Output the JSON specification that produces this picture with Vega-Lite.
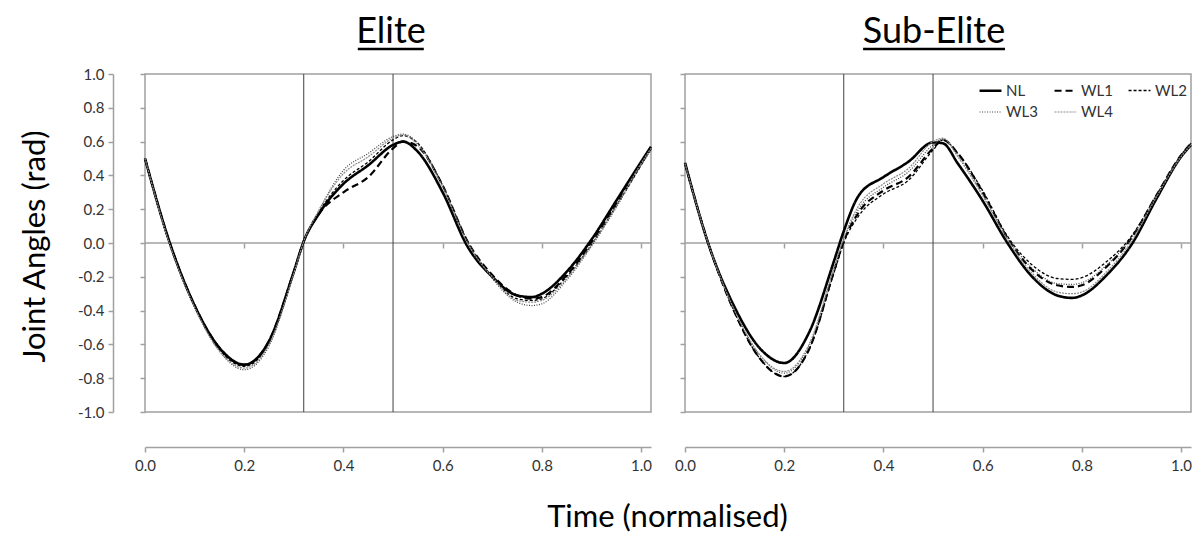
{
  "$schema": "https://vega.github.io/schema/vega-lite/v6.json",
  "background": "white",
  "padding": {"left": 18, "top": 12, "right": 5, "bottom": 5},
  "bounds": "flush",
  "spacing": 34,
  "datasets": {
    "curves": [
      {"g":"E","t":0,"NL":0.50,"WL1":0.50,"WL2":0.50,"WL3":0.50,"WL4":0.50},
      {"g":"E","t":0.05,"NL":0.00,"WL1":0.00,"WL2":0.00,"WL3":-0.01,"WL4":-0.01},
      {"g":"E","t":0.1,"NL":-0.37,"WL1":-0.37,"WL2":-0.37,"WL3":-0.38,"WL4":-0.38},
      {"g":"E","t":0.15,"NL":-0.62,"WL1":-0.62,"WL2":-0.63,"WL3":-0.64,"WL4":-0.64},
      {"g":"E","t":0.2,"NL":-0.72,"WL1":-0.72,"WL2":-0.73,"WL3":-0.75,"WL4":-0.74},
      {"g":"E","t":0.25,"NL":-0.58,"WL1":-0.58,"WL2":-0.59,"WL3":-0.61,"WL4":-0.60},
      {"g":"E","t":0.3,"NL":-0.17,"WL1":-0.17,"WL2":-0.17,"WL3":-0.18,"WL4":-0.18},
      {"g":"E","t":0.32,"NL":0.01,"WL1":0.01,"WL2":0.01,"WL3":0.01,"WL4":0.01},
      {"g":"E","t":0.35,"NL":0.17,"WL1":0.17,"WL2":0.18,"WL3":0.19,"WL4":0.19},
      {"g":"E","t":0.4,"NL":0.35,"WL1":0.30,"WL2":0.37,"WL3":0.43,"WL4":0.41},
      {"g":"E","t":0.45,"NL":0.46,"WL1":0.39,"WL2":0.48,"WL3":0.53,"WL4":0.51},
      {"g":"E","t":0.5,"NL":0.58,"WL1":0.56,"WL2":0.61,"WL3":0.63,"WL4":0.62},
      {"g":"E","t":0.52,"NL":0.60,"WL1":0.60,"WL2":0.635,"WL3":0.645,"WL4":0.64},
      {"g":"E","t":0.55,"NL":0.54,"WL1":0.57,"WL2":0.59,"WL3":0.59,"WL4":0.58},
      {"g":"E","t":0.6,"NL":0.30,"WL1":0.34,"WL2":0.34,"WL3":0.34,"WL4":0.33},
      {"g":"E","t":0.65,"NL":-0.02,"WL1":0.01,"WL2":0.01,"WL3":0.01,"WL4":0.00},
      {"g":"E","t":0.7,"NL":-0.20,"WL1":-0.19,"WL2":-0.20,"WL3":-0.21,"WL4":-0.20},
      {"g":"E","t":0.75,"NL":-0.31,"WL1":-0.31,"WL2":-0.33,"WL3":-0.35,"WL4":-0.34},
      {"g":"E","t":0.78,"NL":-0.32,"WL1":-0.33,"WL2":-0.34,"WL3":-0.37,"WL4":-0.35},
      {"g":"E","t":0.8,"NL":-0.30,"WL1":-0.32,"WL2":-0.33,"WL3":-0.36,"WL4":-0.34},
      {"g":"E","t":0.85,"NL":-0.17,"WL1":-0.19,"WL2":-0.20,"WL3":-0.22,"WL4":-0.21},
      {"g":"E","t":0.9,"NL":0.02,"WL1":0.00,"WL2":-0.01,"WL3":-0.02,"WL4":-0.01},
      {"g":"E","t":0.95,"NL":0.25,"WL1":0.23,"WL2":0.22,"WL3":0.21,"WL4":0.22},
      {"g":"E","t":1.0,"NL":0.48,"WL1":0.47,"WL2":0.46,"WL3":0.46,"WL4":0.47},
      {"g":"E","t":1.02,"NL":0.57,"WL1":0.56,"WL2":0.56,"WL3":0.55,"WL4":0.56},
      {"g":"S","t":0,"NL":0.475,"WL1":0.47,"WL2":0.47,"WL3":0.47,"WL4":0.47},
      {"g":"S","t":0.05,"NL":-0.03,"WL1":-0.03,"WL2":-0.03,"WL3":-0.03,"WL4":-0.03},
      {"g":"S","t":0.1,"NL":-0.38,"WL1":-0.41,"WL2":-0.41,"WL3":-0.40,"WL4":-0.40},
      {"g":"S","t":0.15,"NL":-0.62,"WL1":-0.68,"WL2":-0.68,"WL3":-0.66,"WL4":-0.66},
      {"g":"S","t":0.2,"NL":-0.71,"WL1":-0.79,"WL2":-0.79,"WL3":-0.77,"WL4":-0.76},
      {"g":"S","t":0.25,"NL":-0.53,"WL1":-0.63,"WL2":-0.63,"WL3":-0.61,"WL4":-0.60},
      {"g":"S","t":0.3,"NL":-0.11,"WL1":-0.17,"WL2":-0.18,"WL3":-0.16,"WL4":-0.15},
      {"g":"S","t":0.32,"NL":0.07,"WL1":0.01,"WL2":0.00,"WL3":0.02,"WL4":0.03},
      {"g":"S","t":0.35,"NL":0.28,"WL1":0.18,"WL2":0.16,"WL3":0.20,"WL4":0.22},
      {"g":"S","t":0.4,"NL":0.39,"WL1":0.31,"WL2":0.29,"WL3":0.33,"WL4":0.35},
      {"g":"S","t":0.45,"NL":0.48,"WL1":0.39,"WL2":0.37,"WL3":0.42,"WL4":0.44},
      {"g":"S","t":0.5,"NL":0.595,"WL1":0.56,"WL2":0.55,"WL3":0.58,"WL4":0.60},
      {"g":"S","t":0.52,"NL":0.59,"WL1":0.61,"WL2":0.61,"WL3":0.615,"WL4":0.62},
      {"g":"S","t":0.55,"NL":0.47,"WL1":0.53,"WL2":0.53,"WL3":0.52,"WL4":0.51},
      {"g":"S","t":0.6,"NL":0.25,"WL1":0.30,"WL2":0.31,"WL3":0.29,"WL4":0.28},
      {"g":"S","t":0.65,"NL":0.00,"WL1":0.03,"WL2":0.04,"WL3":0.03,"WL4":0.02},
      {"g":"S","t":0.7,"NL":-0.20,"WL1":-0.16,"WL2":-0.13,"WL3":-0.15,"WL4":-0.18},
      {"g":"S","t":0.75,"NL":-0.31,"WL1":-0.25,"WL2":-0.21,"WL3":-0.24,"WL4":-0.29},
      {"g":"S","t":0.78,"NL":-0.325,"WL1":-0.26,"WL2":-0.215,"WL3":-0.245,"WL4":-0.30},
      {"g":"S","t":0.8,"NL":-0.31,"WL1":-0.25,"WL2":-0.205,"WL3":-0.235,"WL4":-0.29},
      {"g":"S","t":0.85,"NL":-0.19,"WL1":-0.14,"WL2":-0.11,"WL3":-0.13,"WL4":-0.17},
      {"g":"S","t":0.9,"NL":-0.01,"WL1":0.03,"WL2":0.04,"WL3":0.03,"WL4":0.01},
      {"g":"S","t":0.95,"NL":0.26,"WL1":0.28,"WL2":0.28,"WL3":0.28,"WL4":0.27},
      {"g":"S","t":1.0,"NL":0.51,"WL1":0.52,"WL2":0.52,"WL3":0.52,"WL4":0.51},
      {"g":"S","t":1.02,"NL":0.58,"WL1":0.59,"WL2":0.59,"WL3":0.59,"WL4":0.58}
    ]
  },
  "hconcat": [
    {
      "width": 506,
      "height": 338,
      "title": {"text": "Elite", "fontSize": 36, "fontWeight": "normal", "font": "Lato", "color": "#000000", "frame": "group", "anchor": "middle", "offset": -3, "dx": -7},
      "layer": [
        {
          "data": {"values": [{}]},
          "mark": {"type": "rule", "color": "#A0A0A0", "strokeWidth": 1.5},
          "encoding": {
            "y": {"datum": 0, "type": "quantitative", "scale": {"domain": [-1, 1], "nice": false, "zero": false},
              "axis": {"orient": "left", "offset": 0, "labels": false, "domain": false, "ticks": true, "tickSize": 5, "title": null, "values": [-1, -0.8, -0.6, -0.4, -0.2, 0, 0.2, 0.4, 0.6, 0.8, 1]}}
          }
        },
        {
          "data": {"values": [{}]},
          "mark": {"type": "rule", "color": "#404040", "strokeWidth": 1},
          "encoding": {
            "x": {"datum": 0.32, "type": "quantitative", "scale": {"domain": [0, 1.02], "nice": false, "zero": false},
              "axis": {"orient": "bottom", "offset": -169, "labels": false, "domain": false, "ticks": true, "tickSize": 5, "title": null, "values": [0.2, 0.4, 0.6, 0.8, 1]}}
          }
        },
        {
          "data": {"values": [{}]},
          "mark": {"type": "rule", "color": "#404040", "strokeWidth": 1},
          "encoding": {
            "x": {"datum": 0.5, "type": "quantitative", "scale": {"domain": [0, 1.02], "nice": false, "zero": false}, "axis": null}
          }
        },
        {
          "data": {"values": [{}]},
          "mark": {"type": "rule", "color": "#000000", "strokeWidth": 2.5},
          "encoding": {
            "x": {"datum": 0.429, "type": "quantitative", "scale": {"domain": [0, 1.02], "nice": false, "zero": false}, "axis": null},
            "x2": {"datum": 0.562},
            "y": {"datum": 1.148, "type": "quantitative", "scale": {"domain": [-1, 1], "nice": false, "zero": false}, "axis": null}
          }
        },
        {
          "data": {"name": "curves"},
          "transform": [
            {"filter": "datum.g == 'E'"},
            {"fold": ["NL", "WL1", "WL2", "WL3", "WL4"], "as": ["s", "v"]}
          ],
          "mark": {"type": "line", "interpolate": "monotone"},
          "encoding": {
            "x": {"field": "t", "type": "quantitative", "scale": {"domain": [0, 1.02], "nice": false, "zero": false},
              "axis": {"orient": "bottom", "offset": 35, "values": [0, 0.2, 0.4, 0.6, 0.8, 1], "format": ".1f", "tickSize": 5, "labelPadding": 6,
                "title": "Time (normalised)", "titleFontSize": 31, "titleX": 522, "titleY": 79, "titleBaseline": "alphabetic", "titleAlign": "center"}},
            "y": {"field": "v", "type": "quantitative", "scale": {"domain": [-1, 1], "nice": false, "zero": false},
              "axis": {"orient": "left", "offset": 32, "values": [-1, -0.8, -0.6, -0.4, -0.2, 0, 0.2, 0.4, 0.6, 0.8, 1],
                "labelExpr": "replace(format(datum.value, '.1f'), '\u2212', '-')", "tickSize": 5, "labelPadding": 4,
                "title": "Joint Angles (rad)", "titleFontSize": 31, "titleX": -78, "titleY": 172, "titleAngle": -90, "titleBaseline": "middle", "titleAlign": "center"}},
            "color": {"field": "s", "type": "nominal", "scale": {"domain": ["NL", "WL1", "WL2", "WL3", "WL4"], "range": ["#000000", "#000000", "#000000", "#404040", "#8c8c8c"]}, "legend": null},
            "strokeDash": {"field": "s", "type": "nominal", "scale": {"domain": ["NL", "WL1", "WL2", "WL3", "WL4"], "range": [[1, 0], [7, 4], [3, 2], [1, 1.5], [2, 1]]}, "legend": null},
            "strokeWidth": {"field": "s", "type": "nominal", "scale": {"type": "ordinal", "domain": ["NL", "WL1", "WL2", "WL3", "WL4"], "range": [2.6, 2.2, 1.3, 1.2, 1.2]}, "legend": null}
          }
        }
      ],
      "resolve": {"axis": {"x": "independent", "y": "independent"}}
    },
    {
      "width": 506,
      "height": 338,
      "title": {"text": "Sub-Elite", "fontSize": 36, "fontWeight": "normal", "font": "Lato", "color": "#000000", "frame": "group", "anchor": "middle", "offset": -3, "dx": -4},
      "layer": [
        {
          "data": {"values": [{}]},
          "mark": {"type": "rule", "color": "#A0A0A0", "strokeWidth": 1.5},
          "encoding": {
            "y": {"datum": 0, "type": "quantitative", "scale": {"domain": [-1, 1], "nice": false, "zero": false},
              "axis": {"orient": "left", "offset": 0, "labels": false, "domain": false, "ticks": true, "tickSize": 5, "title": null, "values": [-1, -0.8, -0.6, -0.4, -0.2, 0, 0.2, 0.4, 0.6, 0.8, 1]}}
          }
        },
        {
          "data": {"values": [{}]},
          "mark": {"type": "rule", "color": "#404040", "strokeWidth": 1},
          "encoding": {
            "x": {"datum": 0.32, "type": "quantitative", "scale": {"domain": [0, 1.02], "nice": false, "zero": false},
              "axis": {"orient": "bottom", "offset": -169, "labels": false, "domain": false, "ticks": true, "tickSize": 5, "title": null, "values": [0.2, 0.4, 0.6, 0.8, 1]}}
          }
        },
        {
          "data": {"values": [{}]},
          "mark": {"type": "rule", "color": "#404040", "strokeWidth": 1},
          "encoding": {
            "x": {"datum": 0.5, "type": "quantitative", "scale": {"domain": [0, 1.02], "nice": false, "zero": false}, "axis": null}
          }
        },
        {
          "data": {"values": [{}]},
          "mark": {"type": "rule", "color": "#000000", "strokeWidth": 2.5},
          "encoding": {
            "x": {"datum": 0.359, "type": "quantitative", "scale": {"domain": [0, 1.02], "nice": false, "zero": false}, "axis": null},
            "x2": {"datum": 0.645},
            "y": {"datum": 1.148, "type": "quantitative", "scale": {"domain": [-1, 1], "nice": false, "zero": false}, "axis": null}
          }
        },
        {
          "data": {"name": "curves"},
          "transform": [
            {"filter": "datum.g == 'S'"},
            {"fold": ["NL", "WL1", "WL2", "WL3", "WL4"], "as": ["s", "v"]}
          ],
          "mark": {"type": "line", "interpolate": "monotone"},
          "encoding": {
            "x": {"field": "t", "type": "quantitative", "scale": {"domain": [0, 1.02], "nice": false, "zero": false},
              "axis": {"orient": "bottom", "offset": 35, "values": [0, 0.2, 0.4, 0.6, 0.8, 1], "format": ".1f", "tickSize": 5, "labelPadding": 6, "title": null}},
            "y": {"field": "v", "type": "quantitative", "scale": {"domain": [-1, 1], "nice": false, "zero": false}, "axis": null},
            "color": {"field": "s", "type": "nominal", "scale": {"domain": ["NL", "WL1", "WL2", "WL3", "WL4"], "range": ["#000000", "#000000", "#000000", "#404040", "#8c8c8c"]}, "legend": {"title": null}},
            "strokeDash": {"field": "s", "type": "nominal", "scale": {"domain": ["NL", "WL1", "WL2", "WL3", "WL4"], "range": [[1, 0], [7, 4], [3, 2], [1, 1.5], [2, 1]]}, "legend": {"title": null}},
            "strokeWidth": {"field": "s", "type": "nominal", "scale": {"type": "ordinal", "domain": ["NL", "WL1", "WL2", "WL3", "WL4"], "range": [2.6, 2.2, 1.3, 1.2, 1.2]}, "legend": {"title": null}}
          }
        }
      ],
      "resolve": {"axis": {"x": "independent", "y": "independent"}}
    }
  ],
  "resolve": {"scale": {"x": "independent", "y": "independent", "color": "independent", "strokeDash": "independent", "strokeWidth": "independent"}},
  "config": {
    "font": "Lato",
    "view": {"stroke": "#A0A0A0", "strokeWidth": 1.5},
    "axis": {"grid": false, "labelFlush": false, "domainColor": "#A0A0A0", "tickColor": "#A0A0A0", "domainWidth": 1.5, "tickWidth": 1.5,
      "labelFont": "Lato", "labelFontSize": 15, "labelColor": "#333333", "titleFont": "Lato", "titleFontWeight": "normal", "titleColor": "#000000"},
    "legend": {"orient": "top-right", "direction": "horizontal", "columns": 3, "symbolType": "stroke", "symbolSize": 480, "labelFont": "Lato", "labelFontSize": 15, "labelColor": "#333333",
      "offset": 4, "columnPadding": 12, "rowPadding": 1, "labelOffset": 3, "padding": 0}
  }
}
